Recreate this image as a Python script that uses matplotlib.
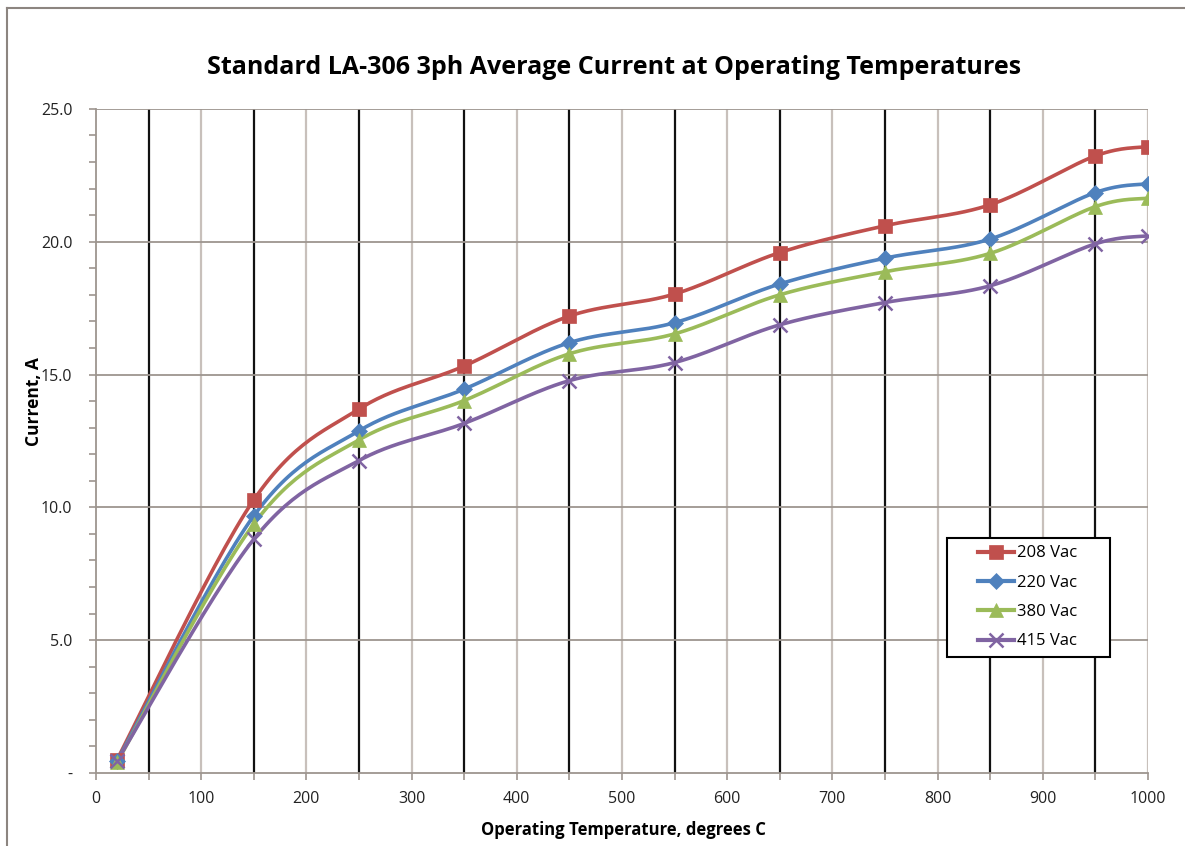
import numpy as np
import matplotlib.pyplot as plt
from matplotlib.lines import Line2D
from matplotlib.patches import Rectangle

# Temperatures (deg C) and average current (A) per supply voltage
temps = [20, 150, 250, 350, 450, 550, 650, 750, 850, 950, 1000]
i_208 = [0.50, 10.28, 13.70, 15.32, 17.20, 18.03, 19.59, 20.60, 21.39, 23.23, 23.58]
i_220 = [0.45, 9.68, 12.88, 14.45, 16.20, 16.95, 18.41, 19.38, 20.10, 21.85, 22.18]
i_380 = [0.40, 9.37, 12.54, 14.02, 15.78, 16.53, 18.00, 18.87, 19.56, 21.32, 21.64]
i_415 = [0.45, 8.80, 11.76, 13.16, 14.77, 15.45, 16.87, 17.71, 18.34, 19.92, 20.22]

labels = ["208 Vac", "220 Vac", "380 Vac", "415 Vac"]
series = [i_208, i_220, i_380, i_415]
colors = ["#C0504D", "#4F81BD", "#9BBB59", "#8064A2"]
markers = ["s", "D", "^", "x"]
msizes = [10.5, 8, 10.5, 10]

x_ticks = list(range(0, 1001, 100))
y_ticks = [0, 5, 10, 15, 20, 25]
y_ticklabels = ["-", "5.0", "10.0", "15.0", "20.0", "25.0"]


def smooth(x, y, n=30):
    # Excel-style smoothed line: cubic Bezier through points (Catmull-Rom control points)
    p = np.column_stack([x, y]).astype(float)
    p = np.vstack([p[0], p, p[-1]])
    out = []
    t = np.linspace(0, 1, n)[:, None]
    for k in range(1, len(p) - 2):
        p0, p1, p2, p3 = p[k - 1], p[k], p[k + 1], p[k + 2]
        c1 = p1 + (p2 - p0) / 6
        c2 = p2 - (p3 - p1) / 6
        seg = ((1 - t) ** 3) * p1 + 3 * ((1 - t) ** 2) * t * c1 + 3 * (1 - t) * t ** 2 * c2 + t ** 3 * p2
        out.append(seg)
    out = np.vstack(out)
    return out[:, 0], out[:, 1]


plt.rcParams['font.family'] = ['Open Sans', 'DejaVu Sans']

fig = plt.figure(figsize=(11.85, 8.46), dpi=100)
ax = fig.add_axes([0.081, 0.0863, 0.8877, 0.785])

# frame around the chart area (only left and top edges visible)
fig.add_artist(Line2D([7 / 1185, 7 / 1185], [0, 1 - 8 / 846], color="#8c8580", lw=1.5))
fig.add_artist(Line2D([7 / 1185, 1], [1 - 8 / 846, 1 - 8 / 846], color="#8c8580", lw=1.5))

# gridlines
for xv in range(100, 1001, 100):
    ax.axvline(xv, color="#c8c0bb", lw=1.6, zorder=1)
for xv in range(50, 1000, 100):
    ax.axvline(xv, color="#111111", lw=1.6, zorder=1)
for yv in y_ticks[1:]:
    ax.axhline(yv, color="#9d958f", lw=1.3, zorder=1)

for y, lab, c, m, ms in zip(series, labels, colors, markers, msizes):
    sx, sy = smooth(temps, y)
    ax.plot(sx, sy, color=c, lw=2.6, zorder=3, solid_capstyle='round')
    ax.plot(temps, y, linestyle='none', marker=m, markersize=ms, color=c,
            markeredgewidth=1.8 if m == "x" else 0.5, zorder=4)

ax.set_xlim(0, 1000)
ax.set_ylim(0, 25)
ax.set_xticks(x_ticks)
ax.set_xticks(range(50, 1000, 100), minor=True)
ax.set_yticks(y_ticks)
ax.set_yticklabels(y_ticklabels)
ax.set_yticks(range(0, 26), minor=True)
ax.tick_params(axis='both', which='both', direction='out', length=5, width=1.2,
               color="#9d958f", labelsize=11.5, labelcolor="#222222")
ax.tick_params(axis='x', pad=8)
ax.tick_params(axis='y', pad=12)

for side in ["top", "right"]:
    ax.spines[side].set_visible(False)
for side in ["left", "bottom"]:
    ax.spines[side].set_color("#9d958f")
    ax.spines[side].set_linewidth(1.3)

fig.text(614 / 1185, 1 - 68 / 846, "Standard LA-306 3ph Average Current at Operating Temperatures",
         fontsize=18, fontweight='bold', ha='center', va='center')
fig.text(623 / 1185, 1 - 830 / 846, "Operating Temperature, degrees C",
         fontsize=12, fontweight='bold', ha='center', va='center')
fig.text(34 / 1185, 1 - 402 / 846, "Current, A", rotation=90,
         fontsize=12.5, fontweight='bold', ha='center', va='center')

# legend box
box = Rectangle((0.809, 0.1747), 0.155, 0.1793, transform=ax.transAxes, facecolor='white',
                edgecolor='black', lw=1.5, zorder=5)
ax.add_patch(box)
handles = [Line2D([], [], color=c, lw=3, marker=m, markersize=ms,
                  markeredgewidth=1.8 if m == "x" else 0.5)
           for c, m, ms in zip(colors, markers, msizes)]
leg = ax.legend(handles, labels, loc='center', bbox_to_anchor=(0.8855, 0.2643),
                fontsize=12, frameon=False, handlelength=2.2, handletextpad=0.15,
                labelspacing=0.8, borderpad=0, numpoints=1)
leg.set_zorder(6)

fig.savefig("out.png", dpi=100)
